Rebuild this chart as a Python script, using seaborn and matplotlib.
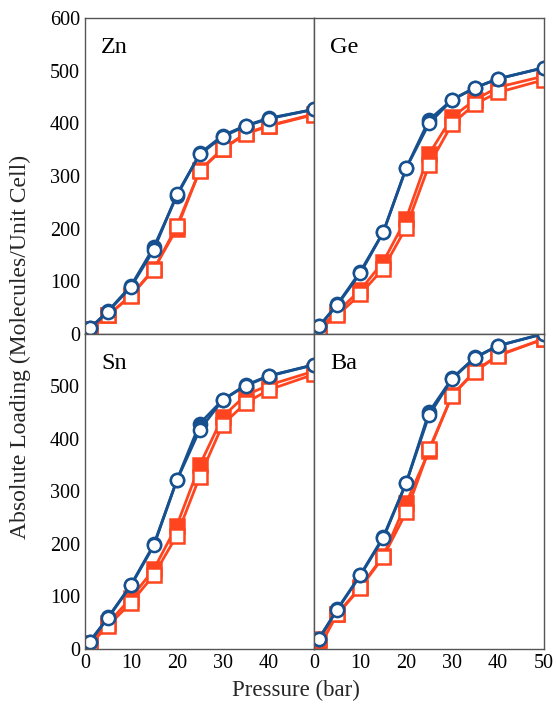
import numpy as np
import pandas as pd
import matplotlib
matplotlib.use("Agg")
import matplotlib.pyplot as plt
from matplotlib.ticker import MultipleLocator, FixedLocator
import seaborn as sns

sns.set_theme(style="white")
plt.rcParams["font.family"] = ["Liberation Serif", "DejaVu Serif"]

pressure = [1, 5, 10, 15, 20, 25, 30, 35, 40, 50]
metals = ["Zn", "Ge", "Sn", "Ba"]

# blue circles: filled and open series
blue_filled = {
    "Zn": [10, 43, 91, 165, 262, 343, 377, 396, 410, 427],
    "Ge": [14, 56, 118, 193, 315, 407, 445, 468, 485, 506],
    "Sn": [14, 60, 122, 199, 321, 429, 474, 502, 520, 541],
    "Ba": [20, 76, 141, 213, 316, 451, 515, 555, 577, 600],
}
blue_open = {
    "Zn": [10, 42, 89, 160, 265, 341, 375, 395, 409, 427],
    "Ge": [14, 55, 115, 193, 315, 400, 445, 468, 485, 506],
    "Sn": [14, 59, 121, 197, 321, 417, 474, 501, 519, 541],
    "Ba": [20, 75, 140, 211, 316, 445, 514, 554, 577, 600],
}
# orange squares: filled and open series
orange_filled = {
    "Zn": [8, 35, 73, 123, 200, 311, 352, 381, 396, 418],
    "Ge": [10, 42, 83, 137, 219, 342, 412, 445, 469, 490],
    "Sn": [12, 49, 97, 152, 235, 350, 442, 483, 502, 529],
    "Ba": [2, 67, 118, 177, 278, 377, 483, 529, 559, 590],
}
orange_open = {
    "Zn": [8, 35, 72, 122, 205, 310, 351, 380, 395, 417],
    "Ge": [7, 35, 75, 124, 202, 321, 399, 437, 459, 483],
    "Sn": [8, 44, 88, 141, 216, 328, 427, 468, 493, 523],
    "Ba": [20, 66, 116, 175, 260, 380, 482, 528, 558, 590],
}

BLUE = "#16508f"
ORANGE = "#ff4520"

fig = plt.figure(figsize=(5.56, 7.07), dpi=100)
left, right, bottom, top = 0.153, 0.978, 0.082, 0.974
w = (right - left) / 2
h = (top - bottom) / 2

axes = {}
for i, m in enumerate(metals):
    r, c = divmod(i, 2)
    ax = fig.add_axes([left + c * w, top - (r + 1) * h, w, h])
    axes[m] = ax

    def draw(y, color, marker, filled, ms):
        df = pd.DataFrame({"P": pressure, "L": y})
        sns.lineplot(data=df, x="P", y="L", ax=ax, color=color, linewidth=2.0,
                     marker=marker, markersize=ms,
                     markerfacecolor=color if filled else "white",
                     markeredgecolor=color, markeredgewidth=1.8,
                     legend=False)

    draw(orange_filled[m], ORANGE, "s", True, 9.5)
    draw(orange_open[m], ORANGE, "s", False, 9.5)
    draw(blue_filled[m], BLUE, "o", True, 9.5)
    draw(blue_open[m], BLUE, "o", False, 9.5)

    ax.set_xlim(0, 50)
    ax.set_ylim(0, 600)
    ax.set_xlabel("")
    ax.set_ylabel("")
    ax.xaxis.set_major_locator(MultipleLocator(10))
    ax.xaxis.set_minor_locator(MultipleLocator(5))
    ax.yaxis.set_major_locator(MultipleLocator(100))
    ax.yaxis.set_minor_locator(MultipleLocator(50))
    ax.tick_params(axis="both", which="both", direction="in", top=False, right=False,
                   labelsize=14.5, colors="black")
    ax.tick_params(which="major", length=7, width=1, color="#333333")
    ax.tick_params(which="minor", length=4, width=1, color="#333333")
    for s in ax.spines.values():
        s.set_color("#555555")
        s.set_linewidth(1.0)

    if c == 1:
        ax.tick_params(axis="y", which="both", left=False, labelleft=False)
    if r == 0:
        ax.tick_params(axis="x", labelbottom=False)
    else:
        if c == 0:
            ax.xaxis.set_major_locator(FixedLocator([0, 10, 20, 30, 40]))
        ax.yaxis.set_major_locator(FixedLocator([0, 100, 200, 300, 400, 500]))
    ax.text(0.07, 0.94, m, transform=ax.transAxes, fontsize=17.5,
            ha="left", va="top", color="black")

fig.text(0.533, 0.008, "Pressure (bar)", ha="center", va="bottom", fontsize=16.5)
fig.text(0.018, 0.509, "Absolute Loading (Molecules/Unit Cell)",
         rotation=90, ha="left", va="center", fontsize=17)

fig.savefig("out.png", dpi=100)
